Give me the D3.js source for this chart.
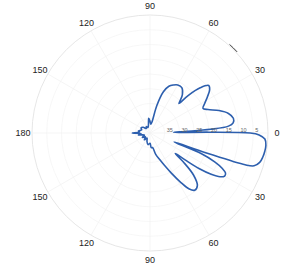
<!DOCTYPE html>
<html>
<head>
<meta charset="utf-8">
<script src="https://cdn.jsdelivr.net/npm/d3@7"></script>
<style>
  body { margin: 0; background: #fff; }
  svg { display: block; font-family: "Liberation Sans", Arial, sans-serif; }
</style>
</head>
<body>
<svg width="288" height="268"></svg>
<script>
// Pattern cut: angle (deg, counter-clockwise from 0) and gain (dB)
const angles = [-180, -175, -170, -160, -150, -140, -130, -120, -110, -100, -90, -85, -80, -75, -70, -66, -62, -58, -55, -52, -48, -44, -41, -39,
  -37.5, -36, -34, -32, -30, -28, -26, -24, -22, -20.5, -19.5, -18.5, -17.5, -15, -12, -9, -6, -3, -1, 0, 0.8, 1.5,
  2.5, 3.5, 5, 7, 10, 14, 18, 22, 25, 28, 32, 36, 39, 42, 44.5, 45.5, 47, 50, 55, 60, 64, 68, 72, 76, 80, 85, 90, 95, 100, 110, 120, 130, 140, 150, 160, 170, 175];
const gainDb = [-34, -37, -36, -38, -37, -38, -37, -38, -37, -36, -36.5, -35, -35, -32.5, -30.4, -28, -24.6, -20.2, -16.8, -15.4, -16, -19.5, -25, -29,
  -25, -19.5, -15, -12, -10.8, -11, -12.8, -16, -21, -31.3, -20, -6, -3, -1.5, -0.9, -0.6, -0.5, -1, -3, -6, -20, -32,
  -28, -19.5, -13.3, -11.6, -11.3, -12.6, -15.4, -18.8, -20.2, -19.1, -17.1, -15, -14.4, -17.1, -21.9, -26, -25, -22.9, -21.2, -21.2, -21.9, -22.9, -25.3, -30.4, -36.2, -37, -36, -35, -37, -38, -37.5, -38, -37, -36.5, -37, -36, -36.5];

// Grid ticks
const ringTicks = [-35, -30, -25, -20, -15, -10, -5, 0];
const ringLabels = ["35", "30", "25", "20", "15", "10", "5"];
const spokeAngles = [0, 30, 60, 90, 120, 150, 180, 210, 240, 270, 300, 330];
const spokeLabels = ["0", "30", "60", "90", "120", "150", "180", "150", "120", "90", "60", "30"];

const cx = 150, cy = 133, R = 118;

const svg = d3.select("svg");
const g = svg.append("g").attr("transform", `translate(${cx},${cy})`);

const rScale = d3.scaleLinear().domain([-40, 0]).range([0, R]);
// d3 radial angle: 0 at top, clockwise
const toRad = deg => (90 - deg) * Math.PI / 180;

// rings
g.selectAll(".ring")
  .data(ringTicks)
  .enter().append("circle")
  .attr("class", "ring")
  .attr("r", d => rScale(d))
  .attr("fill", "none")
  .attr("stroke", d => d === 0 ? "#e0e0e0" : "#f5f5f5")
  .attr("stroke-width", 0.8);

// spokes
g.selectAll(".spoke")
  .data(spokeAngles)
  .enter().append("line")
  .attr("class", "spoke")
  .attr("x1", 0).attr("y1", 0)
  .attr("x2", d => R * Math.cos(d * Math.PI / 180))
  .attr("y2", d => -R * Math.sin(d * Math.PI / 180))
  .attr("stroke", "#f3f3f3")
  .attr("stroke-width", 0.8);

// small dark mark on the outer ring
g.append("path")
  .attr("d", d3.arc()({ innerRadius: R + 1, outerRadius: R + 1, startAngle: toRad(48), endAngle: toRad(43) }))
  .attr("fill", "none")
  .attr("stroke", "#555")
  .attr("stroke-width", 0.8);

// angle labels
g.selectAll(".alab")
  .data(spokeAngles)
  .enter().append("text")
  .attr("class", "alab")
  .attr("x", d => 127 * Math.cos(d * Math.PI / 180))
  .attr("y", d => -127 * Math.sin(d * Math.PI / 180))
  .attr("text-anchor", "middle")
  .attr("dominant-baseline", "central")
  .attr("font-size", 9)
  .attr("fill", "#222")
  .text((d, i) => spokeLabels[i]);

// pattern
const pts = angles.map((a, i) => [toRad(a), rScale(gainDb[i])]);
const line = d3.lineRadial().curve(d3.curveCatmullRomClosed.alpha(0.5));
g.append("path")
  .attr("d", line(pts))
  .attr("fill", "none")
  .attr("stroke", "#2d5fae")
  .attr("stroke-width", 1.6)
  .attr("stroke-linejoin", "round");

// radial labels
g.selectAll(".rlab")
  .data(ringLabels)
  .enter().append("text")
  .attr("class", "rlab")
  .attr("x", (d, i) => rScale(ringTicks[i]) + 2)
  .attr("y", -1.5)
  .attr("font-size", 5.5)
  .attr("fill", "#666")
  .text(d => d);
</script>
</body>
</html>
